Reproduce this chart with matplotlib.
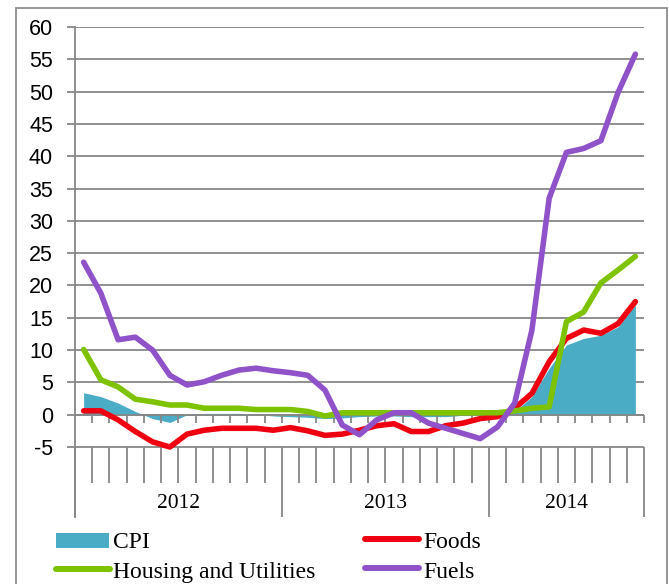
import numpy as np
import matplotlib
matplotlib.use("Agg")
from matplotlib import pyplot
from matplotlib.lines import Line2D
from matplotlib.patches import Rectangle

pyplot.rcParams["axes.unicode_minus"] = False

# monthly values, Jan 2012 .. Sep 2014
years = ["2012", "2013", "2014"]
months_per_year = [12, 12, 9]
cpi = [3.4, 2.8, 1.8, 0.5, -0.6, -1.2, 0.0, 0.2, 0.2, 0.2, 0.1, -0.2,
       -0.3, -0.4, -0.6, -0.5, -0.3, -0.2, -0.2, -0.3, -0.3, -0.3, -0.1, 0.1,
       0.3, 0.5, 2.8, 7.2, 10.8, 11.8, 12.3, 13.6, 17.0]
foods = [0.6, 0.6, -0.8, -2.6, -4.2, -5.0, -3.0, -2.4, -2.1, -2.1, -2.1, -2.4,
         -2.0, -2.5, -3.2, -3.0, -2.4, -1.7, -1.4, -2.6, -2.6, -1.7, -1.3, -0.6,
         -0.3, 1.0, 3.3, 8.2, 11.8, 13.1, 12.6, 14.1, 17.5]
housing = [10.1, 5.4, 4.3, 2.4, 2.0, 1.5, 1.5, 1.0, 1.0, 1.0, 0.8, 0.8,
           0.8, 0.5, -0.2, 0.3, 0.3, 0.3, 0.3, 0.3, 0.3, 0.3, 0.3, 0.3,
           0.3, 0.6, 1.0, 1.2, 14.4, 15.9, 20.4, 22.4, 24.5]
fuels = [23.6, 18.8, 11.6, 12.0, 10.0, 6.1, 4.6, 5.1, 6.1, 6.9, 7.2, 6.8,
         6.5, 6.1, 3.8, -1.6, -3.1, -0.8, 0.3, 0.3, -1.3, -2.1, -2.9, -3.7,
         -1.9, 1.8, 13.1, 33.5, 40.6, 41.2, 42.4, 49.9, 55.8]

W, H = 669, 584
GRID = "#878787"
C_CPI = "#4BACC6"
C_FOODS = "#EE0010"
C_HOUSING = "#7DC300"
C_FUELS = "#8F52C8"

fig = pyplot.figure(figsize=(W / 100, H / 100), dpi=100)
ax = fig.add_axes([75 / W, 1 - 517 / H, (644 - 75) / W, (517 - 27) / H])

n = len(cpi)
x = np.arange(n) + 0.5
ax.set_xlim(0, n)
ax.set_ylim(-15.83, 60)

yticks = np.arange(-5, 61, 5)
ax.hlines(yticks, 0, n, color=GRID, lw=1.3, zorder=1)
ax.fill_between(x, 0, cpi, color=C_CPI, lw=0, zorder=2)
ax.hlines(0, 0, n, color=GRID, lw=1.3, zorder=2.5)

lw = 4.0
style = dict(solid_capstyle="round", solid_joinstyle="round", zorder=3)
ax.plot(x, foods, color=C_FOODS, lw=lw, **style)
ax.plot(x, housing, color=C_HOUSING, lw=lw, **style)
ax.plot(x, fuels, color=C_FUELS, lw=lw, **style)

# category axis: small ticks, month separators, year separators
bounds = np.arange(n + 1)
ax.vlines(bounds[1:], -1.25, 0, color=GRID, lw=1.3, zorder=2.5, clip_on=False)
ax.vlines(bounds, -10.57, -5, color=GRID, lw=1.3, clip_on=False)
edges = np.concatenate([[0], np.cumsum(months_per_year)])
ax.vlines(edges, -15.83, -10.57, color=GRID, lw=1.3, clip_on=False)
for i, yr in enumerate(years):
    ax.text((edges[i] + edges[i + 1]) / 2, -13.75, yr, ha="center", va="center",
            fontsize=15.5, family="Liberation Serif")

for s in ["top", "right", "bottom"]:
    ax.spines[s].set_visible(False)
ax.spines["left"].set_color(GRID)
ax.spines["left"].set_linewidth(1.3)
ax.set_xticks([])
ax.set_yticks(yticks)
ax.tick_params(axis="y", length=5.8, width=1.3, color=GRID, pad=10, labelsize=15.5)
for lab in ax.get_yticklabels():
    lab.set_family("Liberation Sans")

# outer chart border
fig.add_artist(Rectangle((16 / W, -0.05), (667 - 16) / W, 1.05 - 8 / H,
                         transform=fig.transFigure, fill=False, ec="#8C8C8C", lw=1.3))

# legend drawn in pixel positions
def fx(px):
    return px / W

def fy(py):
    return 1 - py / H

fig.add_artist(Rectangle((fx(56), fy(548)), 53 / W, 15 / H, transform=fig.transFigure,
                         color=C_CPI, lw=0))
legend_lines = [(C_FOODS, 365, 538.5), (C_HOUSING, 56, 569), (C_FUELS, 365, 568)]
for color, x0, y0 in legend_lines:
    fig.add_artist(Line2D([fx(x0), fx(x0 + 54)], [fy(y0), fy(y0)], transform=fig.transFigure,
                          color=color, lw=4.3, solid_capstyle="round"))
legend_texts = [("CPI", 113, 548), ("Foods", 423, 548),
                ("Housing and Utilities", 113, 578), ("Fuels", 423, 578)]
for label, x0, y0 in legend_texts:
    fig.text(fx(x0), fy(y0), label, ha="left", va="baseline", fontsize=17,
             family="Liberation Serif")

pyplot.savefig("out.png", dpi=100)
